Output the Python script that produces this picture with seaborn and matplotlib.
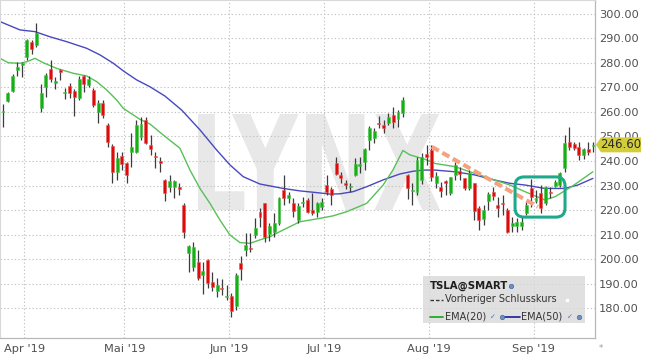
import numpy as np
import pandas as pd
import matplotlib
matplotlib.use("Agg")
import matplotlib.pyplot as plt
import seaborn as sns
from matplotlib.textpath import TextPath
from matplotlib.patches import PathPatch, Polygon, FancyBboxPatch, Rectangle
from matplotlib.font_manager import FontProperties
from matplotlib.lines import Line2D
import matplotlib.transforms as mtransforms

# ---------------- data ----------------
holidays = ["2019-04-19", "2019-05-27", "2019-07-04", "2019-09-02"]
dates = [d for d in pd.bdate_range("2019-03-25", "2019-09-19")
         if d.strftime("%Y-%m-%d") not in holidays]

open_ = [259.8, 264.6, 268.7, 277.1, 279.0, 282.6, 288.6, 287.3, 261.5, 270.1,
         277.7, 271.8, 276.9, 267.9, 270.5, 268.7, 265.9, 274.7, 271.2, 269.0,
         259.9, 263.5, 254.8, 246.3, 235.7, 242.0, 239.0, 243.8, 243.8, 249.9,
         256.7, 246.5, 241.9, 239.9, 232.2, 229.3, 229.3, 229.5, 222.0, 202.6,
         196.9, 198.6, 193.5, 199.6, 190.5, 187.1, 188.2, 184.4, 184.9, 180.8,
         198.5, 203.7, 204.6, 209.8, 219.1, 222.7, 210.2, 210.9, 214.6, 228.2,
         224.8, 222.7, 215.9, 222.7, 224.1, 220.0, 219.3, 221.1, 230.2, 228.4,
         239.3, 234.4, 231.2, 229.3, 234.3, 238.1, 239.7, 248.6, 249.5, 255.6,
         254.7, 255.6, 258.8, 257.1, 259.5, 234.3, 227.9, 227.5, 232.2, 242.9,
         244.5, 231.2, 229.5, 232.0, 226.8, 234.3, 235.9, 232.9, 228.8, 230.9,
         220.7, 216.2, 223.8, 227.5, 222.0, 222.7, 220.0, 213.5, 213.6, 213.5,
         218.6, 228.8, 223.8, 226.8, 222.7, 227.5, 229.9, 230.2, 237.0, 247.9,
         246.9, 245.6, 242.4, 244.8, 246.1]
high = [263.3, 268.2, 275.5, 280.3, 280.5, 289.8, 289.4, 296.5, 271.3, 276.1,
        281.1, 274.4, 277.4, 269.7, 271.7, 269.5, 274.7, 275.1, 274.7, 269.7,
        264.9, 264.9, 255.5, 246.8, 243.8, 243.8, 239.5, 251.3, 256.7, 258.1,
        258.1, 250.6, 243.8, 241.8, 232.5, 234.3, 232.2, 230.9, 222.7, 205.7,
        207.1, 203.7, 198.6, 200.0, 194.8, 192.1, 191.8, 189.4, 186.0, 194.2,
        201.2, 210.7, 210.5, 216.6, 220.7, 223.0, 214.6, 218.6, 225.2, 234.3,
        227.5, 224.8, 222.7, 225.4, 224.8, 226.8, 223.4, 224.8, 234.3, 229.5,
        241.8, 235.6, 232.3, 230.9, 241.1, 241.8, 245.2, 254.3, 253.6, 258.4,
        256.7, 259.7, 262.2, 260.8, 266.0, 234.7, 230.9, 241.5, 243.1, 246.5,
        246.5, 235.6, 231.6, 232.3, 233.6, 239.7, 237.7, 233.2, 236.3, 231.0,
        221.6, 222.0, 227.5, 229.5, 225.4, 226.1, 220.7, 217.3, 216.6, 217.3,
        223.4, 232.5, 228.2, 230.2, 229.8, 229.5, 232.2, 235.6, 250.6, 254.0,
        247.9, 247.9, 245.2, 247.9, 247.9]
low = [254.0, 264.2, 268.3, 274.7, 274.1, 281.2, 283.7, 286.7, 260.1, 266.0,
       272.4, 269.3, 273.1, 265.3, 265.9, 258.5, 264.9, 268.3, 270.1, 262.2,
       255.6, 257.7, 245.9, 231.0, 232.2, 236.5, 231.2, 237.7, 243.1, 248.6,
       246.9, 242.4, 237.0, 235.6, 223.8, 227.5, 224.8, 226.1, 208.4, 194.8,
       195.2, 191.4, 185.7, 188.0, 187.1, 184.6, 185.3, 183.3, 176.5, 179.2,
       191.4, 201.2, 203.0, 208.4, 213.2, 207.1, 207.5, 209.1, 213.9, 222.0,
       222.7, 217.3, 214.6, 221.4, 218.6, 218.0, 217.3, 220.0, 226.1, 222.0,
       234.3, 230.9, 228.4, 227.5, 234.0, 235.0, 236.3, 244.5, 247.5, 253.3,
       251.6, 254.7, 253.3, 254.0, 258.1, 224.3, 222.0, 226.1, 230.5, 238.5,
       231.8, 228.8, 225.4, 226.1, 226.1, 232.2, 232.2, 228.2, 228.2, 215.9,
       211.8, 213.9, 220.0, 224.1, 217.3, 218.0, 210.5, 211.2, 211.2, 211.8,
       218.0, 221.4, 222.7, 218.6, 222.0, 224.8, 229.5, 229.5, 235.6, 244.5,
       244.5, 240.4, 240.7, 242.4, 243.8]
close = [260.3, 267.6, 274.7, 278.5, 280.1, 289.4, 285.9, 292.1, 267.6, 275.0,
         273.5, 272.7, 276.5, 268.3, 267.6, 266.3, 273.3, 271.4, 273.3, 262.9,
         263.8, 258.8, 247.9, 235.4, 241.4, 238.6, 234.3, 245.6, 254.8, 255.1,
         247.2, 244.8, 241.6, 239.3, 226.8, 231.8, 231.8, 228.4, 210.9, 205.3,
         204.8, 192.1, 195.2, 190.3, 188.4, 189.4, 187.9, 184.9, 178.9, 193.3,
         196.1, 205.7, 204.2, 212.5, 217.0, 208.8, 213.5, 214.6, 224.8, 224.8,
         226.1, 219.7, 221.6, 223.3, 219.3, 218.9, 222.7, 223.4, 227.5, 226.1,
         234.7, 232.9, 230.2, 229.9, 238.8, 238.6, 244.9, 253.6, 252.2, 255.0,
         253.3, 258.1, 255.8, 260.1, 264.9, 228.9, 228.0, 240.5, 241.8, 241.8,
         233.6, 234.0, 227.9, 230.9, 233.3, 238.4, 234.8, 228.8, 235.0, 219.7,
         215.9, 220.0, 226.5, 225.8, 220.7, 222.3, 211.2, 214.8, 215.2, 215.2,
         222.0, 225.4, 224.8, 220.7, 229.5, 227.1, 231.6, 235.2, 247.2, 245.9,
         245.2, 242.4, 244.8, 243.5, 246.6]

# EMA curves (position in trading days, value)
ema20_idx = [-0.63, 1.11, 3.57, 4.98, 6.72, 8.47, 11.28, 14.77, 17.58, 19.68,
             21.79, 23.89, 25.27, 28.78, 30.88, 33.68, 37.18, 39.29, 41.39, 43.49,
             45.59, 47.69, 49.79, 51.89, 53.99, 56.09, 58.19, 60.29, 62.39, 66.60,
             69.33, 72.21, 76.41, 79.89, 81.93, 84.03, 85.50, 88.66, 90.76, 94.96,
             98.11, 101.26, 103.36, 106.51, 109.66, 113.87, 115.97, 119.47, 123.95]
ema20_val = [281.9, 280.1, 279.9, 280.5, 281.9, 280.1, 277.8, 275.8, 274.7, 272.4,
             269.0, 264.9, 261.5, 257.0, 255.1, 250.6, 245.2, 236.3, 228.8, 222.7,
             215.9, 209.8, 206.7, 206.4, 207.8, 209.1, 211.2, 213.2, 215.2, 216.6,
             217.6, 219.3, 222.7, 230.2, 236.3, 244.3, 242.5, 240.7, 239.0, 237.7,
             235.6, 233.6, 232.2, 230.2, 227.5, 224.1, 225.4, 229.5, 235.6]
ema50_idx = [-0.63, 3.57, 6.72, 9.87, 13.38, 17.58, 20.38, 23.17, 25.48, 28.09,
             30.88, 34.03, 37.54, 41.39, 44.89, 47.69, 50.48, 53.99, 58.89, 62.39,
             65.90, 68.70, 70.80, 73.59, 76.41, 79.89, 83.40, 86.13, 88.24, 90.76,
             94.96, 99.16, 103.36, 106.51, 109.66, 113.87, 118.07, 120.80, 123.95]
ema50_val = [296.9, 293.5, 292.8, 290.7, 288.7, 286.0, 283.3, 279.9, 276.5, 273.1,
             270.3, 266.5, 260.8, 252.7, 244.5, 238.4, 233.6, 230.6, 228.8, 227.8,
             227.1, 226.5, 226.6, 227.5, 229.5, 232.3, 234.7, 235.8, 236.3, 236.3,
             235.6, 234.3, 232.2, 230.9, 230.2, 228.8, 228.8, 230.2, 232.9]

month_labels = ["Apr '19", "Mai '19", "Jun '19", "Jul '19", "Aug '19", "Sep '19"]
y_ticks = [180, 190, 200, 210, 220, 230, 240, 250, 260, 270, 280, 290, 300]

# annotations (data coordinates)
trend_x = [90.1, 112.4]
trend_y = [245.8, 221.3]
box_x = [107.6, 118.1]
box_y = [217.1, 233.5]

# ---------------- figure ----------------
sns.set_theme(style="white")
plt.rcParams["font.family"] = ["DejaVu Sans"]

W, H = 645, 358
fig = plt.figure(figsize=(W / 100, H / 100), dpi=100)
fig.patch.set_facecolor("white")
ax = fig.add_axes([0, 20 / H, 595 / W, 338 / H])
ax.set_facecolor("white")

df = pd.DataFrame({"date": dates, "open": open_, "high": high, "low": low, "close": close})
df["idx"] = np.arange(len(df))

ax.set_xlim(-0.63, 124.4)
ax.set_ylim(167.76, 305.71)

# watermark
fp = FontProperties(family="DejaVu Sans", weight="bold")
tp = TextPath((0, 0), "LYNX", size=1, prop=fp)
bb = tp.get_extents()
x0, y0, ww, hh = 198 / W, (H - 210) / H, 242 / W, 96 / H
tr = (mtransforms.Affine2D().translate(-bb.x0, -bb.y0)
      .scale(ww / bb.width, hh / bb.height).translate(x0, y0) + fig.transFigure)
ax.add_patch(PathPatch(tp, transform=tr, facecolor="#e8e8e8", edgecolor="none", zorder=0.2))

# grid and ticks
month_pos = (df.groupby(df["date"].dt.month)["idx"].min().loc[4:9] - 0.5).tolist()
ax.set_xticks(month_pos)
ax.set_xticklabels(month_labels)
ax.set_yticks(y_ticks)
ax.set_yticklabels([f"{v:.2f}" for v in y_ticks])
ax.grid(True, color="#c4c4c4", linestyle=(0, (1.2, 2)), linewidth=0.8)
ax.set_axisbelow(True)
ax.yaxis.tick_right()
ax.tick_params(axis="both", length=0, labelsize=8.2, labelcolor="#505050")
ax.tick_params(axis="y", pad=3)
ax.tick_params(axis="x", pad=4)
for s in ["left", "top"]:
    ax.spines[s].set_color("#d8d8d8")
    ax.spines[s].set_linewidth(0.8)
for s in ["right", "bottom"]:
    ax.spines[s].set_color("#b8b8b8")
    ax.spines[s].set_linewidth(0.9)

# EMA lines
sns.lineplot(x=ema50_idx, y=ema50_val, ax=ax, color="#4848c0", lw=1.0, zorder=2)
sns.lineplot(x=ema20_idx, y=ema20_val, ax=ax, color="#58c058", lw=1.0, zorder=2)

# candles
up = df["close"] >= df["open"]
colors = np.where(up, "#14b014", "#dc0c0c")
edges = np.where(up, "#4cc44c", "#e85a5a")
ax.vlines(df["idx"], df["low"], df["high"], colors="#3c3c3c", lw=0.9, zorder=3)
body_bot = np.minimum(df["open"], df["close"])
body_h = np.maximum(np.abs(df["close"] - df["open"]), 0.45)
ax.bar(df["idx"], body_h, bottom=body_bot, width=0.62, color=colors,
       edgecolor=edges, linewidth=0.4, zorder=4)

# trend line
ax.plot(trend_x, trend_y, color="#f5a07f", lw=2.9, dashes=[2.0, 1.0], zorder=6,
        solid_capstyle="butt")

# teal rounded box (converted from data coords to pixels)
p0 = ax.transData.transform((box_x[0], box_y[0]))
p1 = ax.transData.transform((box_x[1], box_y[1]))
ax.add_patch(FancyBboxPatch((p0[0], p0[1]), p1[0] - p0[0], p1[1] - p0[1],
                            boxstyle="round,pad=0,rounding_size=9",
                            transform=mtransforms.IdentityTransform(),
                            facecolor="none", edgecolor="#1fa98b", lw=2.2, zorder=7))


# legend box
def fx(x):
    return x / W


def fy(y):
    return 1 - y / H


fig.add_artist(Rectangle((fx(423), fy(323)), 162 / W, 47 / H, transform=fig.transFigure,
                         facecolor="#d9d9d9", alpha=0.8, edgecolor="none", zorder=5))
fig.text(fx(430), fy(285.5), "TSLA@SMART", fontsize=7.3, fontweight="bold",
         color="#1e1e1e", va="center", ha="left", zorder=6)
fig.add_artist(Line2D([fx(430), fx(443)], [fy(299.5), fy(299.5)], transform=fig.transFigure,
                      color="#333333", lw=1.0, dashes=[2.5, 1.5], zorder=6))
fig.text(fx(445), fy(299.5), "Vorheriger Schlusskurs", fontsize=7, color="#333333",
         va="center", ha="left", zorder=6)
fig.add_artist(Rectangle((fx(565), fy(302)), 4 / W, 4 / H, transform=fig.transFigure,
                         facecolor="white", edgecolor="#dddddd", lw=0.4, zorder=6))
fig.add_artist(Line2D([fx(430), fx(443)], [fy(316.5), fy(316.5)], transform=fig.transFigure,
                      color="#22aa22", lw=1.3, zorder=6))
fig.text(fx(445), fy(316.5), "EMA(20)", fontsize=7, color="#333333",
         va="center", ha="left", zorder=6)
fig.add_artist(Line2D([fx(503), fx(520)], [fy(316.5), fy(316.5)], transform=fig.transFigure,
                      color="#2a2aa0", lw=1.3, zorder=6))
fig.text(fx(521), fy(316.5), "EMA(50)", fontsize=7, color="#333333",
         va="center", ha="left", zorder=6)
for cx in [493, 570]:
    fig.text(fx(cx), fy(317), "\u2713", fontsize=5, color="#4a70b8",
             va="center", ha="center", zorder=6)
for cx, cy in [(511, 285.5), (502, 316.5), (579, 316.5)]:
    fig.add_artist(Line2D([fx(cx)], [fy(cy)], transform=fig.transFigure, marker="o",
                          markersize=3.2, color="#7090c0", markeredgecolor="#4a6aa0",
                          markeredgewidth=0.5, zorder=6))

# last price label
last = df["close"].iloc[-1]
py = ax.transData.transform((0, last))[1]
pxl = 596
poly = [(pxl, py), (pxl + 5, py + 7.5), (pxl + 45, py + 7.5), (pxl + 45, py - 7.5), (pxl + 5, py - 7.5)]
fig.add_artist(Polygon(poly, closed=True, transform=mtransforms.IdentityTransform(),
                       facecolor="#d3cd3a", edgecolor="none", zorder=8))
fig.text((pxl + 25) / W, py / H, f"{last:.2f}", fontsize=8.5, color="#2a2a2a",
         va="center", ha="center", zorder=9)

fig.text(fx(601), fy(349), "*", fontsize=6, color="#999999", va="center", ha="center")

fig.savefig("out.png", dpi=100)
